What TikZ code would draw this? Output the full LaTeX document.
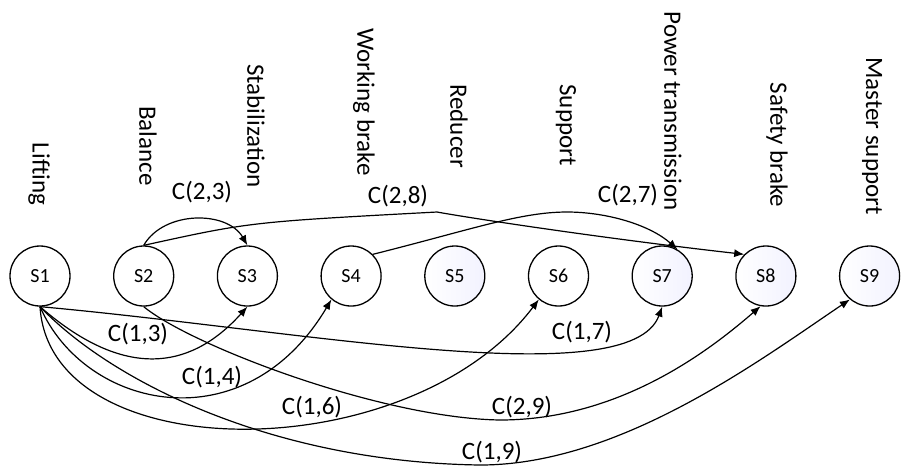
\documentclass[tikz,border=0pt]{standalone}
\usepackage{fontspec}
\setmainfont{Carlito}
\usetikzlibrary{positioning,arrows.meta}
\tikzset{
	state/.style    = {shape=circle, draw, line width=0.65pt,
		minimum size=30pt, inner sep=0pt,
		font=\fontsize{10}{12}\selectfont},
	shadestate/.style = {state, left color=white, right color=blue!5},
	sublabel/.style = {rotate=-90, inner sep=0pt,
		font=\fontsize{12.5}{15}\selectfont},
	cost/.style     = {inner sep=0pt, font=\fontsize{12.5}{15}\selectfont},
	flow/.style     = {draw, line width=0.6pt, -{Latex[length=5pt,width=4pt]}}
}

\begin{document}
\begin{tikzpicture}
[
x                 = 0.5pt,
y                 = 0.5pt,
node distance     = 21.2pt
]
\useasboundingbox (0,0) rectangle (905,-468);
% subsystems
\node [state] (s1) at (40,-276) {S1};
\node [state, right=of s1] (s2) {S2};
\node [state, right=of s2] (s3) {S3};
\node [state, right=of s3] (s4) {S4};
\node [shadestate, right=of s4] (s5) {S5};
\node [state, right=of s5] (s6) {S6};
\node [shadestate, right=of s6] (s7) {S7};
\node [shadestate, right=of s7] (s8) {S8};
\node [shadestate, right=of s8] (s9) {S9};
% names
\node [sublabel] (l1) at (39,-174) {Lifting};
\node [sublabel] (l2) at (148,-146) {Balance};
\node [sublabel] (l3) at (256,-126) {Stabilization};
\node [sublabel] (l4) at (364,-102) {Working brake};
\node [sublabel] (l5) at (459,-126) {Reducer};
\node [sublabel] (l6) at (566,-125) {Support};
\node [sublabel] (l7) at (673,-111) {Power transmission};
\node [sublabel] (l8) at (777,-145) {Safety brake};
\node [sublabel] (l9) at (872,-136) {Master support};
% couplings above
\draw [flow] (s2.north) to[out=60,in=120] (s3.north);
\draw [flow] (s2.north) .. controls (250,-222) .. (437,-212)
	.. controls (470,-218) and (600,-238) .. (s8.north west);
\draw [flow] (s4.north east) .. controls (470,-230) and (520,-212) .. (567,-212)
	.. controls (607,-212) and (650,-225) .. (s7.60);
% couplings below
\draw [flow] (s1.south) .. controls (130,-385) and (195,-365) .. (s3.south);
\draw [flow] (s1.south) .. controls (85,-410) and (245,-445) .. (s4.-130);
\draw [flow] (s1.south) .. controls (50,-470) and (410,-470) .. (s6.-130);
\draw [flow] (s1.south) .. controls (300,-330) and (630,-395) .. (s7.south);
\draw [flow] (s1.south) .. controls (110,-380) and (270,-462) .. (480,-465)
	.. controls (620,-465) and (760,-360) .. (s9.-130);
\draw [flow] (s2.south) .. controls (190,-345) and (380,-418) .. (500,-420)
	.. controls (620,-420) and (710,-350) .. (s8.-100);
% coupling labels
\node [cost] (c23) at (202,-192) {C(2,3)};
\node [cost] (c28) at (398,-196) {C(2,8)};
\node [cost] (c27) at (628,-195) {C(2,7)};
\node [cost] (c13) at (138,-334) {C(1,3)};
\node [cost] (c14) at (212,-377) {C(1,4)};
\node [cost] (c16) at (312,-407) {C(1,6)};
\node [cost] (c17) at (582,-332) {C(1,7)};
\node [cost] (c29) at (522,-407) {C(2,9)};
\node [cost] (c19) at (492,-452) {C(1,9)};
\end{tikzpicture}
\end{document}
